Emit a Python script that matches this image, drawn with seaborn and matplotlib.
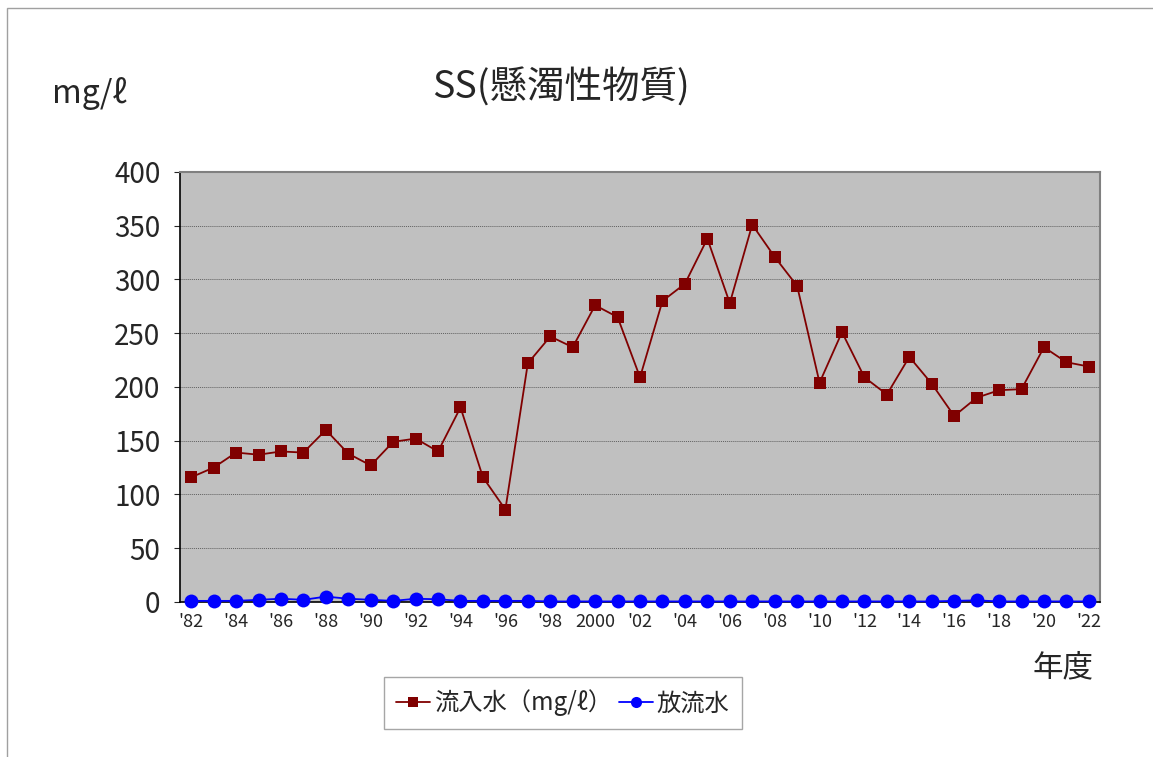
import numpy as np
import pandas as pd
import seaborn as sns
import matplotlib.pyplot as plt
from matplotlib.patches import Rectangle
from matplotlib.ticker import FixedLocator, MultipleLocator

# Data
years = list(range(1982, 2023))
inflow = [116, 125, 139, 137, 140, 139, 160, 138, 127, 149,
          152, 140, 181, 116, 86, 222, 247, 237, 276, 265,
          209, 280, 296, 338, 278, 351, 321, 294, 204, 251,
          209, 193, 228, 203, 173, 190, 197, 198, 237, 223, 219]
effluent = [1, 1, 1, 2, 3, 2, 5, 3, 2, 1,
            3, 2.5, 1, 1, 1, 1, 0.5, 0.5, 0.5, 0.5,
            0.5, 0.5, 0.5, 0.5, 0.5, 0.5, 0.5, 0.5, 0.5, 0.5,
            0.5, 0.5, 0.5, 0.5, 1, 1.5, 0.5, 0.5, 0.5, 0.5, 0.5]
tick_labels = ["'82", "'84", "'86", "'88", "'90", "'92", "'94", "'96", "'98", "2000",
               "'02", "'04", "'06", "'08", "'10", "'12", "'14", "'16", "'18", "'20", "'22"]

sns.set_theme(style="white")
plt.rcParams['font.family'] = ['Noto Sans CJK JP', 'DejaVu Sans']

df = pd.DataFrame({"idx": np.arange(len(years)), "inflow": inflow, "effluent": effluent})

fig = plt.figure(figsize=(11.53, 7.57), dpi=100)
ax = fig.add_axes([0.1561, 0.2048, 0.7980, 0.5680])
ax.set_facecolor("#C0C0C0")

sns.lineplot(data=df, x="idx", y="inflow", ax=ax, color="#800000", marker="s",
             markersize=9, markeredgewidth=0, linewidth=1.3,
             label="流入水（mg/ℓ）", zorder=3)
sns.lineplot(data=df, x="idx", y="effluent", ax=ax, color="#0000FF", marker="o",
             markersize=10, markeredgewidth=0, linewidth=1.3,
             label="放流水", zorder=4, clip_on=False)

ax.set_xlim(-0.5, len(years) - 0.5)
ax.set_ylim(0, 400)
ax.yaxis.set_major_locator(MultipleLocator(50))
ax.grid(axis="y", color="#606060", linestyle=(0, (1, 1)), linewidth=0.7)
ax.set_axisbelow(True)

ax.xaxis.set_major_locator(FixedLocator(np.arange(0, len(years), 2)))
ax.set_xticklabels(tick_labels)
ax.xaxis.set_minor_locator(FixedLocator(np.arange(-0.5, len(years), 1)))
ax.tick_params(axis="x", which="major", length=0, labelsize=13, pad=8)
ax.tick_params(axis="x", which="minor", direction="in", length=5, width=0.8, color="#404040")
ax.tick_params(axis="y", which="major", direction="out", length=4, width=0.8,
               labelsize=20, pad=10, left=True)

ax.set_xlabel("")
ax.set_ylabel("")
for side in ["left", "bottom"]:
    ax.spines[side].set_color("black")
    ax.spines[side].set_linewidth(1.2)
for side in ["top", "right"]:
    ax.spines[side].set_color("#808080")
    ax.spines[side].set_linewidth(1.5)

fig.text(0.487, 0.884, "SS(懸濁性物質)", ha="center", va="center", fontsize=27)
fig.text(0.078, 0.876, "mg/ℓ", ha="center", va="center", fontsize=23)
fig.text(0.922, 0.118, "年度", ha="center", va="center", fontsize=22)

leg = ax.legend(loc="center", bbox_to_anchor=(0.488, 0.0713),
                bbox_transform=fig.transFigure, ncol=2, fontsize=17.5,
                frameon=True, fancybox=False, edgecolor="#909090",
                handlelength=1.4, handletextpad=0.15, columnspacing=0.3,
                borderpad=0.5, borderaxespad=0, markerscale=0.8)
leg.get_frame().set_linewidth(1.0)

# outer chart-area border
fig.patches.append(Rectangle((0.006, -0.01), 1.0, 1.0, transform=fig.transFigure,
                             fill=False, edgecolor="#A0A0A0", linewidth=1.0))

fig.savefig("out.png", dpi=100)
